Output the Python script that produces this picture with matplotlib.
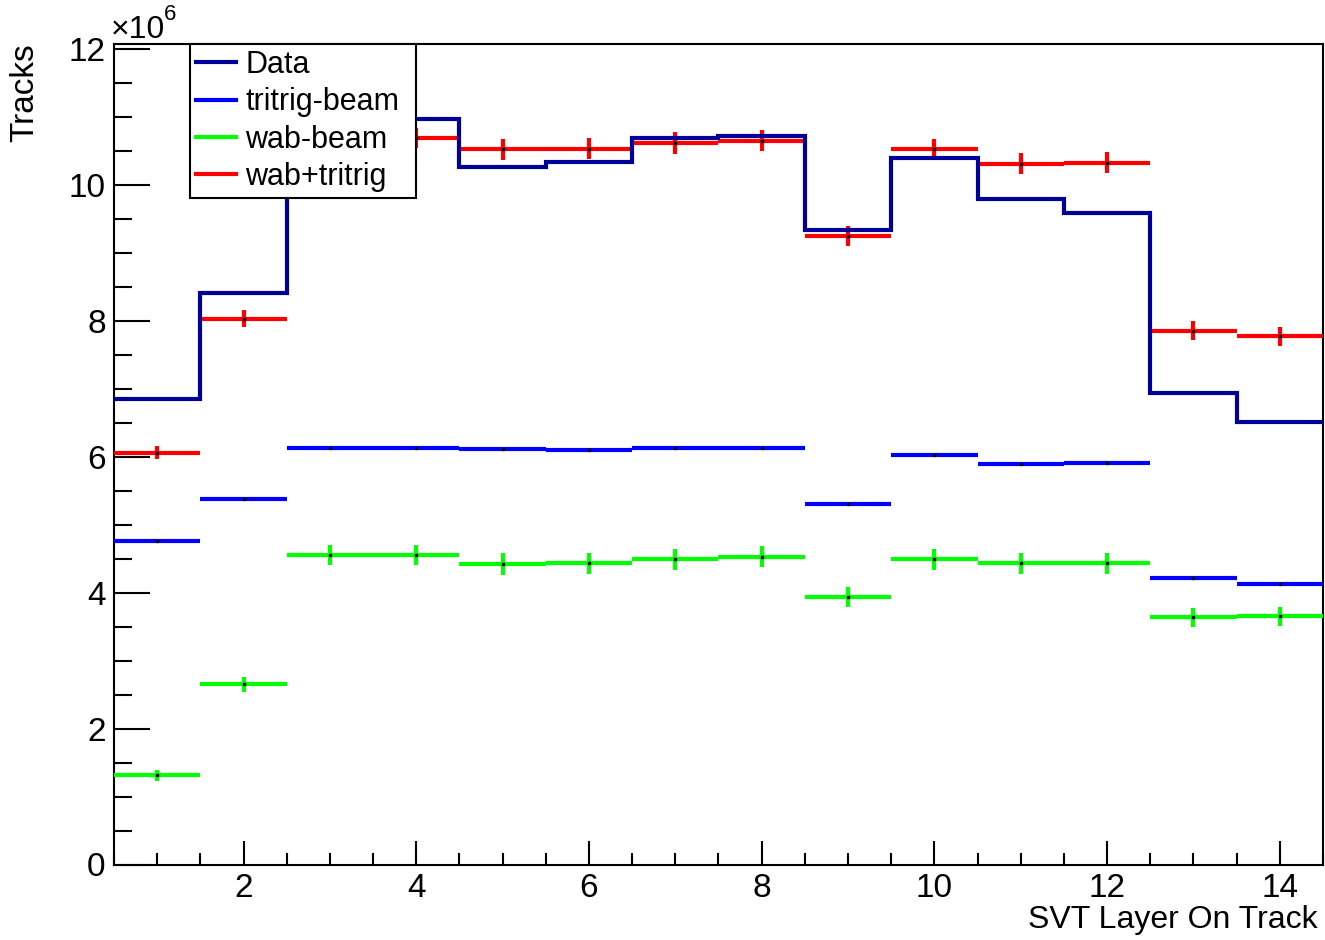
import numpy as np
import matplotlib
matplotlib.use('Agg')
import matplotlib.pyplot as plt
from matplotlib.ticker import MultipleLocator
from matplotlib.lines import Line2D

# SVT layer hit counts per track, in units of 1e6 tracks
layers = np.arange(1, 15)
data = [6.85, 8.40, 10.95, 10.96, 10.26, 10.34, 10.69, 10.72, 9.34, 10.40, 9.79, 9.58, 6.93, 6.51]
tritrig = [4.76, 5.38, 6.13, 6.13, 6.11, 6.10, 6.12, 6.12, 5.31, 6.03, 5.89, 5.90, 4.22, 4.12]
tritrig_err = [0.015] * 14
wab = [1.31, 2.65, 4.55, 4.55, 4.42, 4.43, 4.49, 4.53, 3.94, 4.49, 4.43, 4.43, 3.64, 3.65]
wab_err = [0.075, 0.115, 0.15, 0.15, 0.155, 0.155, 0.155, 0.155, 0.145, 0.155, 0.155, 0.155, 0.14, 0.14]
wab_tritrig = [6.06, 8.03, 10.68, 10.69, 10.52, 10.53, 10.61, 10.65, 9.25, 10.52, 10.31, 10.32, 7.85, 7.77]
wab_tritrig_err = [0.09, 0.125, 0.15, 0.15, 0.155, 0.155, 0.16, 0.16, 0.15, 0.155, 0.155, 0.155, 0.14, 0.14]

edges = np.arange(0.5, 15.0, 1.0)

plt.rcParams.update({
    "font.family": ["Liberation Sans", "DejaVu Sans"],
    "font.size": 22,
    "axes.linewidth": 1.5,
})

fig = plt.figure(figsize=(13.25, 9.4), dpi=100)
ax = fig.add_axes([114 / 1325, 1 - 864.5 / 940, 1209 / 1325, (864.5 - 44) / 940])

lw = 3.0
ax.stairs(data, edges, baseline=None, color='#000099', linewidth=lw, zorder=5)

series = [
    (tritrig, tritrig_err, '#0000ff'),
    (wab, wab_err, '#00ff00'),
    (wab_tritrig, wab_tritrig_err, '#ff0000'),
]
for vals, errs, col in series:
    ax.errorbar(layers, vals, xerr=0.5, yerr=errs, fmt='none', ecolor=col,
                elinewidth=lw, capsize=0, zorder=3)
    ax.plot(layers, vals, 's', color='black', markersize=1.6, zorder=4)

ax.set_xlim(0.5, 14.5)
ax.set_ylim(0, 12.07)

ax.xaxis.set_major_locator(MultipleLocator(2))
ax.xaxis.set_minor_locator(MultipleLocator(0.5))
ax.yaxis.set_major_locator(MultipleLocator(2))
ax.yaxis.set_minor_locator(MultipleLocator(0.5))
ax.tick_params(axis='both', which='both', direction='in', width=1.5, colors='black')
ax.tick_params(axis='y', which='major', length=26, pad=6, labelsize=24)
ax.tick_params(axis='y', which='minor', length=13)
ax.tick_params(axis='x', which='major', length=17, pad=6, labelsize=24)
ax.tick_params(axis='x', which='minor', length=8.6)

fig.text(1318 / 1325, 1 - 920 / 940, 'SVT Layer On Track', ha='right', va='center', fontsize=23)
fig.text(25 / 1325, 1 - 43 / 940, 'Tracks', rotation=90, ha='center', va='top', fontsize=24)
fig.text(111 / 1325, 1 - 30 / 940, '\u00d710', ha='left', va='center', fontsize=23)
fig.text(164 / 1325, 1 - 14 / 940, '6', ha='left', va='center', fontsize=16)

handles = [Line2D([], [], color=c, linewidth=lw) for c in ['#000099', '#0000ff', '#00ff00', '#ff0000']]
labels = ['Data', 'tritrig-beam', 'wab-beam', 'wab+tritrig']
leg = ax.legend(handles, labels, loc='upper left',
                bbox_to_anchor=((190 - 114) / 1209, 0, 226 / 1209, 1.0), mode='expand',
                borderaxespad=0, fancybox=False, frameon=True, edgecolor='black', framealpha=1,
                handlelength=1.3, handletextpad=0.3, borderpad=0.2, labelspacing=0.24,
                fontsize=22)
leg.get_frame().set_linewidth(1.5)

plt.savefig('out.png', dpi=100)
